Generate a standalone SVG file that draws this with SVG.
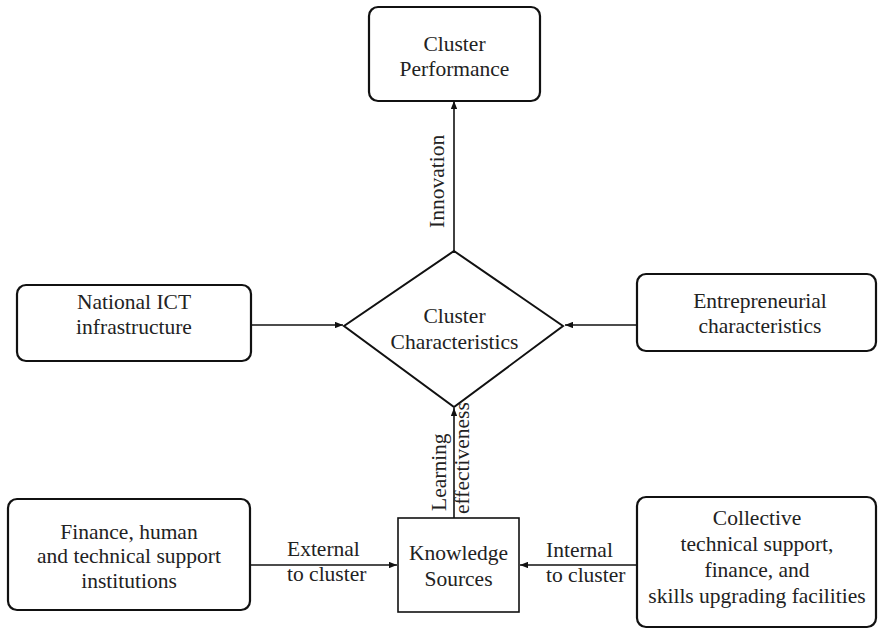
<svg xmlns="http://www.w3.org/2000/svg" width="878" height="629" viewBox="0 0 878 629">
<defs>
<marker id="ah" viewBox="0 0 10 8" refX="10" refY="4" markerWidth="8" markerHeight="6.5" markerUnits="userSpaceOnUse" orient="auto">
<path d="M0,0 L10,4 L0,8 z" fill="#111"/>
</marker>
</defs>
<style>
.box{fill:#fff;stroke:#111;stroke-width:2.2}
.sq{fill:#fff;stroke:#111;stroke-width:1.6}
.t{font-family:"Liberation Serif","Times New Roman",serif;font-size:21.5px;fill:#222;text-anchor:middle}
.l{font-family:"Liberation Serif","Times New Roman",serif;font-size:21.5px;fill:#222;text-anchor:start}
.c{fill:none;stroke:#111;stroke-width:1.6;marker-end:url(#ah)}
</style>
<rect width="878" height="629" fill="#fff"/>
<g id="connectors">
<line class="c" x1="454" y1="251" x2="454" y2="101"/>
<line class="c" x1="251" y1="325" x2="343" y2="325"/>
<line class="c" x1="637" y1="325" x2="565" y2="325"/>
<line class="c" x1="454" y1="518" x2="454" y2="408"/>
<line class="c" x1="250" y1="565" x2="397" y2="565"/>
<line class="c" x1="637" y1="565" x2="520" y2="565"/>
<text class="l" transform="translate(444,228) rotate(-90)">Innovation</text>
<text class="l" transform="translate(446,511) rotate(-90)">Learning</text>
<text class="l" transform="translate(469,514) rotate(-90)">effectiveness</text>
<text class="l" x="287" y="556">External</text>
<text class="l" x="287" y="581">to cluster</text>
<text class="l" x="546" y="557">Internal</text>
<text class="l" x="546" y="582">to cluster</text>
</g>
<g id="cluster-performance">
<rect class="box" x="369" y="7" width="171" height="94" rx="9"/>
<text class="t" x="454.5" y="51">Cluster</text>
<text class="t" x="454.5" y="76">Performance</text>
</g>
<g id="cluster-characteristics">
<polygon points="454,251 563,326 454,407 344,326" fill="#fff" stroke="#111" stroke-width="2"/>
<text class="t" x="454.5" y="323">Cluster</text>
<text class="t" x="454.5" y="349">Characteristics</text>
</g>
<g id="national-ict">
<rect class="box" x="17" y="285" width="234" height="76" rx="9"/>
<text class="t" x="134" y="309">National ICT</text>
<text class="t" x="134" y="334">infrastructure</text>
</g>
<g id="entrepreneurial">
<rect class="box" x="637" y="274" width="239" height="77" rx="9"/>
<text class="t" x="760" y="308">Entrepreneurial</text>
<text class="t" x="760" y="333">characteristics</text>
</g>
<g id="finance-institutions">
<rect class="box" x="8" y="499" width="242" height="111" rx="9"/>
<text class="t" x="129" y="539">Finance, human</text>
<text class="t" x="129" y="563">and technical support</text>
<text class="t" x="129" y="588">institutions</text>
</g>
<g id="knowledge-sources">
<rect class="sq" x="398" y="518" width="121" height="94"/>
<text class="t" x="458.5" y="560">Knowledge</text>
<text class="t" x="458.5" y="586">Sources</text>
</g>
<g id="collective">
<rect class="box" x="637" y="497" width="239" height="130" rx="9"/>
<text class="t" x="757" y="525">Collective</text>
<text class="t" x="757" y="551">technical support,</text>
<text class="t" x="757" y="577">finance, and</text>
<text class="t" x="757" y="603">skills upgrading facilities</text>
</g>
</svg>
